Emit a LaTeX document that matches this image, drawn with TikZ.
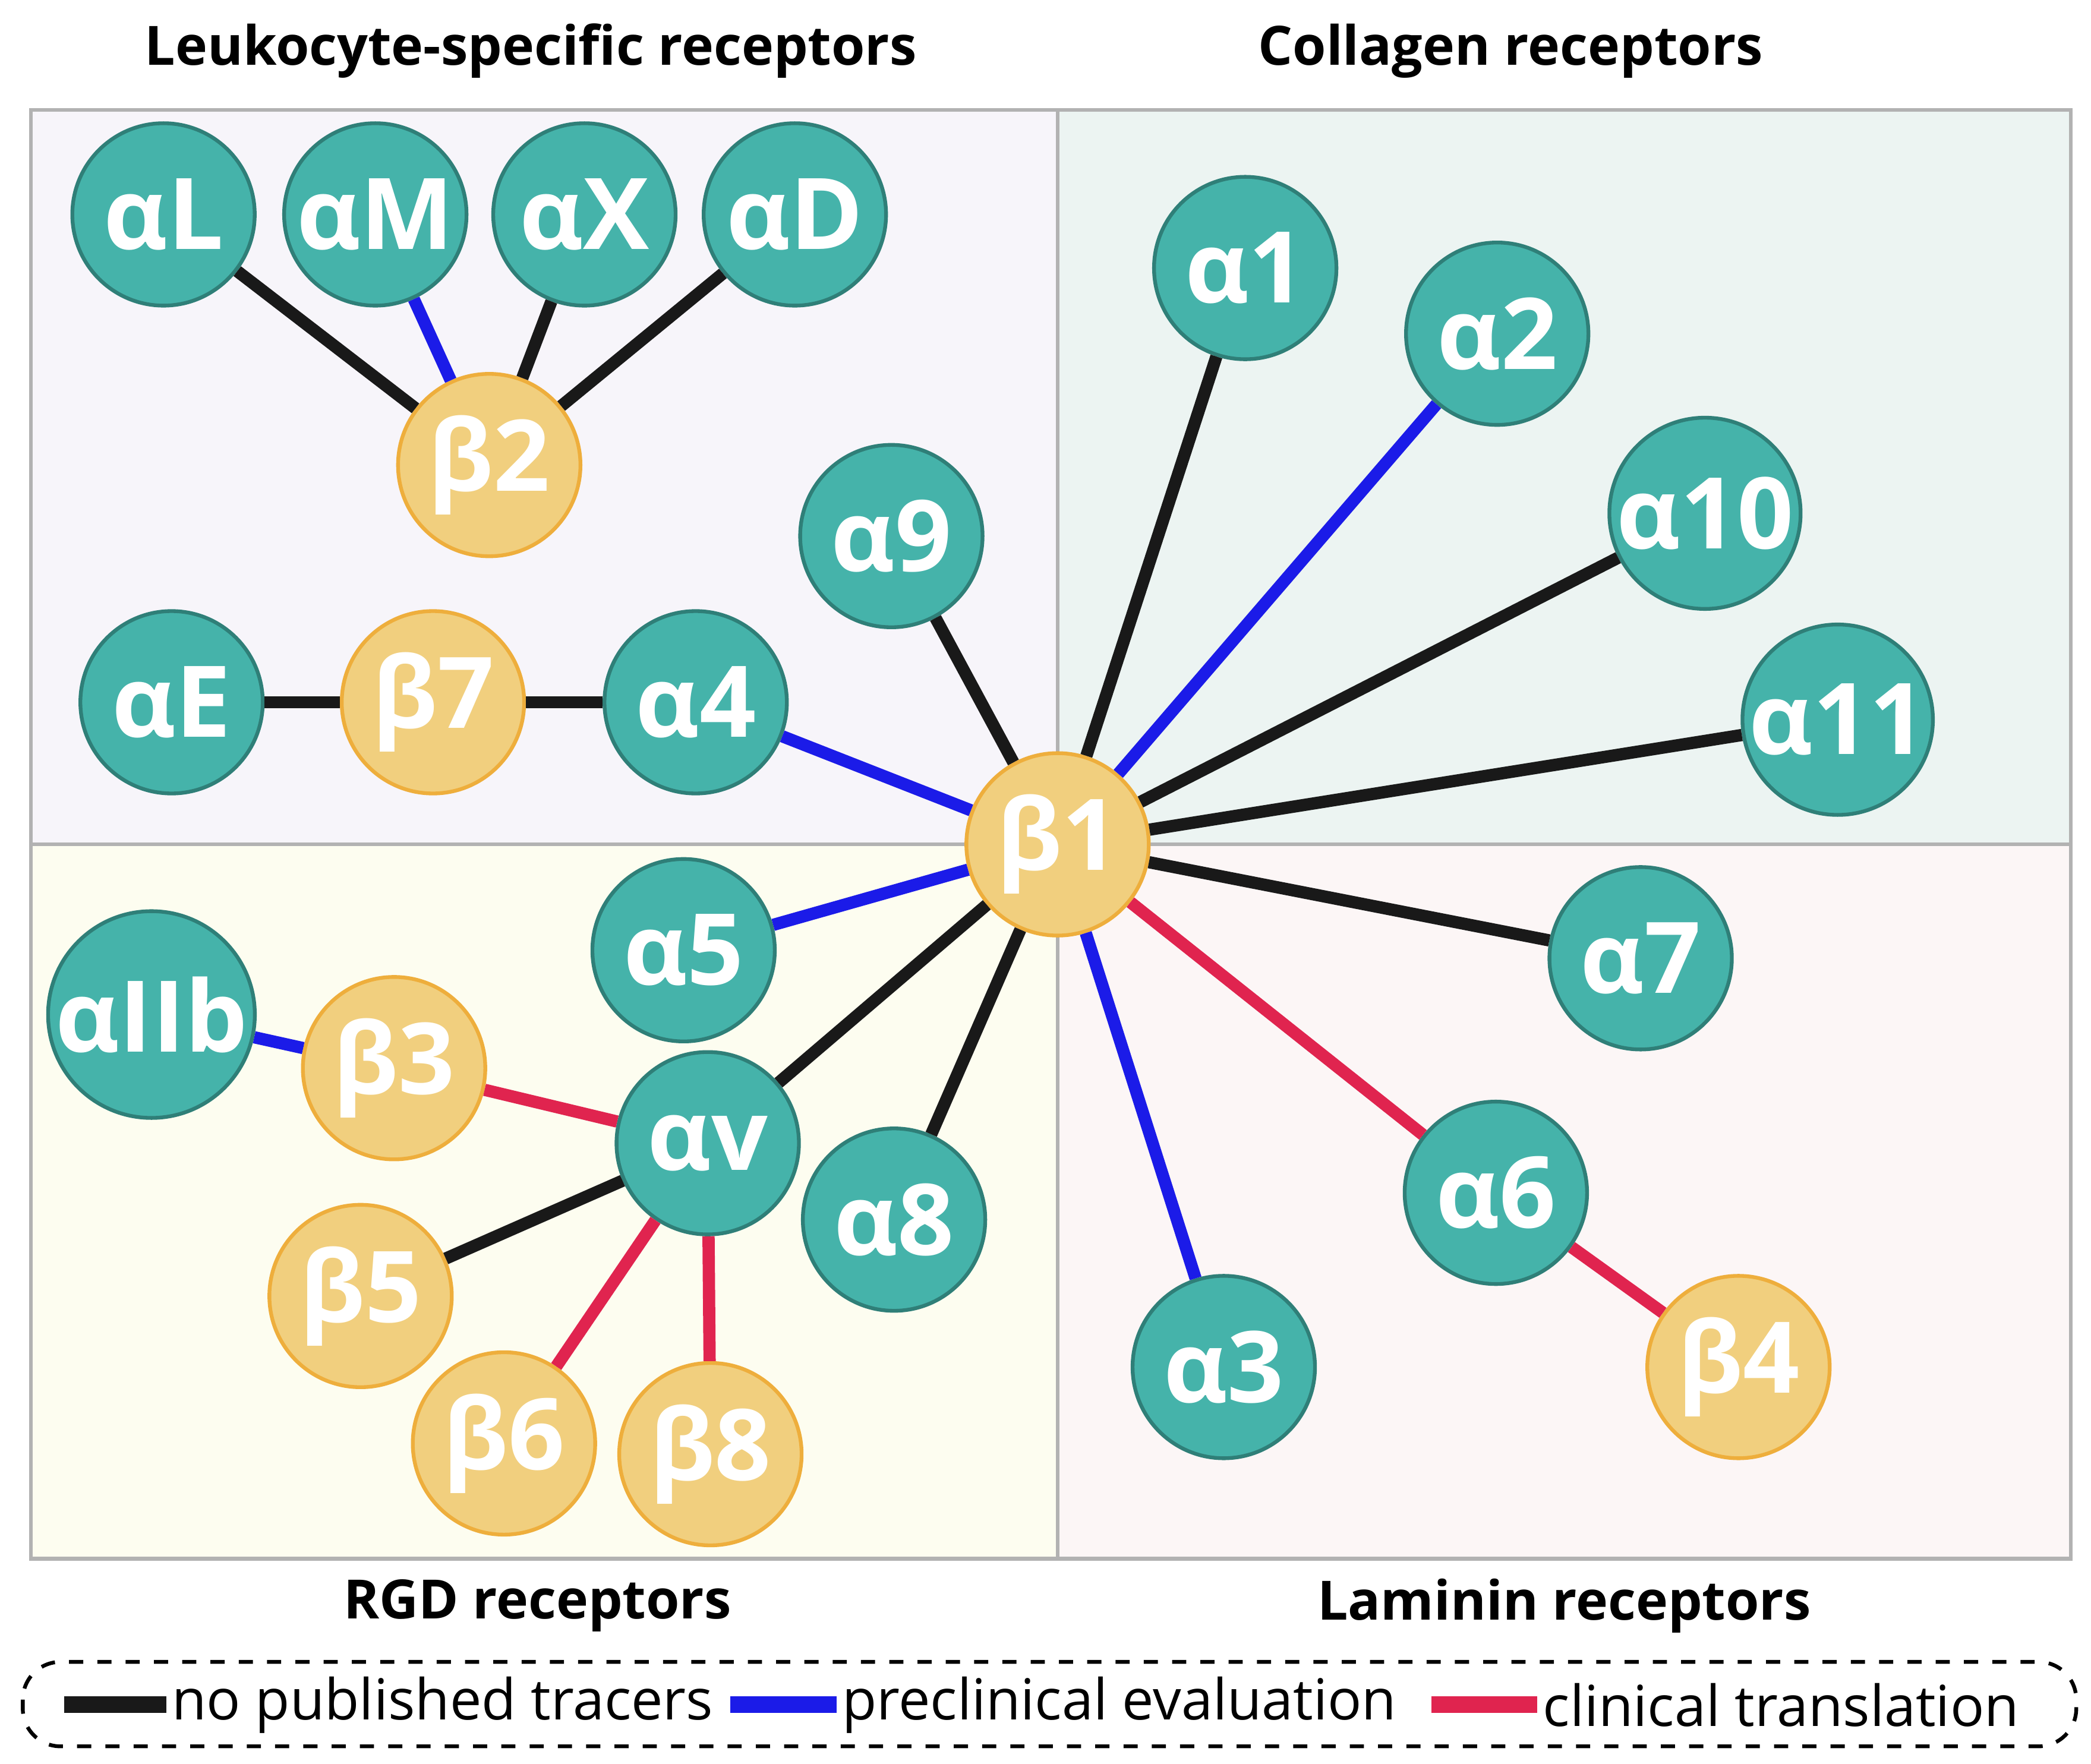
\documentclass[tikz,border=0pt]{standalone}
\usepackage{fontspec}
\setmainfont{Open Sans}
\usetikzlibrary{shapes.geometric}
\definecolor{teal1}{HTML}{45B3AA}
\definecolor{tealb}{HTML}{2F7F78}
\definecolor{gold1}{HTML}{F1CF7E}
\definecolor{goldb}{HTML}{EEAE3C}
\definecolor{blu}{HTML}{1B1BE8}
\definecolor{rd}{HTML}{E0244F}
\tikzstyle{alpha} = [circle, minimum size=1.36cm, inner sep=0pt, draw=tealb, thick, fill=teal1, text=white, font=\fontsize{21}{24}\selectfont\bfseries]
\tikzstyle{beta} = [circle, minimum size=1.36cm, inner sep=0pt, draw=goldb, thick, fill=gold1, text=white, font=\fontsize{21}{24}\selectfont\bfseries]
\tikzstyle{none} = [line width=2.6pt, black!90]
\tikzstyle{pre} = [line width=2.6pt, blu]
\tikzstyle{clin} = [line width=2.6pt, rd]
\tikzstyle{title} = [font=\fontsize{11.5}{14}\selectfont\bfseries]
\tikzstyle{legend} = [font=\fontsize{12}{14}\selectfont, anchor=west, inner sep=1pt]
\begin{document}
\begin{tikzpicture}[x=0.01cm, y=-0.01cm]
\useasboundingbox (0,0) rectangle (1560,1316);

% panels
\fill[fill={rgb,255:red,247;green,245;blue,250}] (23,82) rectangle (789,630);
\fill[fill={rgb,255:red,236;green,244;blue,242}] (789,82) rectangle (1545,630);
\fill[fill={rgb,255:red,253;green,253;blue,240}] (23,630) rectangle (789,1163);
\fill[fill={rgb,255:red,252;green,246;blue,246}] (789,630) rectangle (1545,1163);
\draw[black!30, thick] (23,82) rectangle (1545,1163);
\draw[black!30, thick] (789,82) -- (789,1163) (23,630) -- (1545,630);

\node (tl) [title] at (396,38) {Leukocyte-specific receptors};
\node (tr) [title] at (1127,38) {Collagen receptors};
\node (bl) [title] at (401,1198) {RGD receptors};
\node (br) [title] at (1167,1198) {Laminin receptors};

% nodes
\node (aL) [alpha] at (122,160) {αL};
\node (aM) [alpha] at (280,160) {αM};
\node (aX) [alpha] at (436,160) {αX};
\node (aD) [alpha] at (593,160) {αD};
\node (b2) [beta] at (365,347) {β2};
\node (a9) [alpha] at (665,400) {α9};
\node (aE) [alpha] at (128,524) {αE};
\node (b7) [beta] at (323,524) {β7};
\node (a4) [alpha] at (519,524) {α4};
\node (b1) [beta] at (789,630) {β1};
\node (a1) [alpha] at (929,200) {α1};
\node (a2) [alpha] at (1117,249) {α2};
\node (a10) [alpha] at (1272,383) {α10};
\node (a11) [alpha] at (1371,537) {α11};
\node (a7) [alpha] at (1224,715) {α7};
\node (a6) [alpha] at (1116,890) {α6};
\node (b4) [beta] at (1297,1020) {β4};
\node (a3) [alpha] at (913,1020) {α3};
\node (a5) [alpha] at (510,709) {α5};
\node (aIIb) [alpha] at (113,757) {αIIb};
\node (b3) [beta] at (294,797) {β3};
\node (av) [alpha] at (528,853) {αv};
\node (a8) [alpha] at (667,910) {α8};
\node (b5) [beta] at (269,967) {β5};
\node (b6) [beta] at (376,1077) {β6};
\node (b8) [beta] at (530,1085) {β8};

% links
\begin{scope}[on background layer/.style={}]
\draw [none] (b2) -- (aL);
\draw [pre] (b2) -- (aM);
\draw [none] (b2) -- (aX);
\draw [none] (b2) -- (aD);
\draw [none] (b7) -- (aE);
\draw [none] (b7) -- (a4);
\draw [pre] (a4) -- (b1);
\draw [none] (a9) -- (b1);
\draw [none] (a1) -- (b1);
\draw [pre] (a2) -- (b1);
\draw [none] (a10) -- (b1);
\draw [none] (a11) -- (b1);
\draw [none] (a7) -- (b1);
\draw [clin] (a6) -- (b1);
\draw [clin] (a6) -- (b4);
\draw [pre] (a3) -- (b1);
\draw [pre] (a5) -- (b1);
\draw [none] (av) -- (b1);
\draw [none] (a8) -- (b1);
\draw [pre] (aIIb) -- (b3);
\draw [clin] (b3) -- (av);
\draw [none] (b5) -- (av);
\draw [clin] (b6) -- (av);
\draw [clin] (b8) -- (av);
\end{scope}

% legend
\draw[dashed, rounded corners=8pt, thick] (17,1240) rectangle (1549,1303);
\node (l1) [legend] at (124,1272) {no published tracers};
\node (l2) [legend] at (624,1272) {preclinical evaluation};
\node (l3) [legend] at (1147,1272) {clinical translation};
\coordinate (s1) at (48,1272);
\coordinate (s2) at (545,1272);
\coordinate (s3) at (1068,1272);
\draw [none, line width=3.5pt] (s1) -- (l1.west);
\draw [pre, line width=3.5pt] (s2) -- (l2.west);
\draw [clin, line width=3.5pt] (s3) -- (l3.west);
\end{tikzpicture}
\end{document}
